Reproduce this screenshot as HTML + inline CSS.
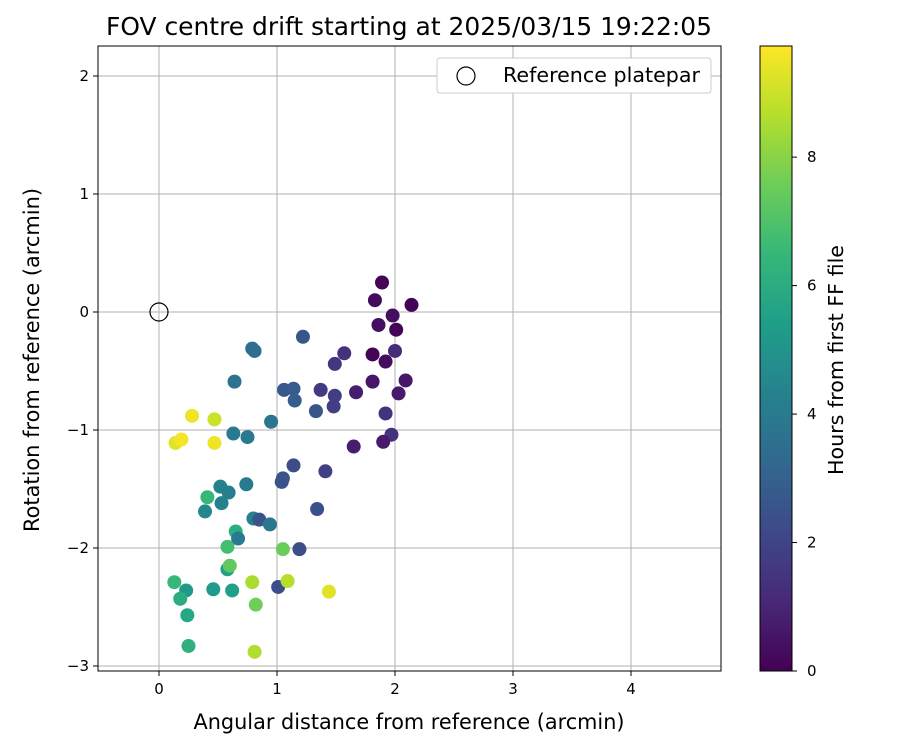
<!DOCTYPE html>
<html><head><meta charset="utf-8"><style>
body{margin:0;background:#fff;font-family:"Liberation Sans","DejaVu Sans",sans-serif;}
</style></head><body>
<svg id="chart" width="900" height="750" xmlns="http://www.w3.org/2000/svg" font-family="DejaVu Sans, Liberation Sans, sans-serif">
<defs>
<linearGradient id="vir" x1="0" y1="1" x2="0" y2="0"></linearGradient>
<clipPath id="clip"><rect x="98" y="46" width="623" height="625"/></clipPath>
</defs>
<text x="409" y="35" font-size="24.5" text-anchor="middle" textLength="606" lengthAdjust="spacingAndGlyphs">FOV centre drift starting at 2025/03/15 19:22:05</text>
<g id="grid"></g>
<g id="points" clip-path="url(#clip)"></g>
<rect x="98" y="46" width="623" height="625" fill="none" stroke="#000" stroke-width="1"/>
<g id="ticks"></g>
<text x="409" y="729" font-size="21" text-anchor="middle" textLength="431" lengthAdjust="spacingAndGlyphs">Angular distance from reference (arcmin)</text>
<text transform="translate(39,360) rotate(-90)" font-size="21" text-anchor="middle" textLength="344" lengthAdjust="spacingAndGlyphs">Rotation from reference (arcmin)</text>
<g>
<rect x="437" y="58" width="274" height="35" rx="3" fill="#fff" stroke="#ccc"/>
<circle cx="466" cy="76" r="9" fill="none" stroke="#000" stroke-width="1.2"/>
<text x="503" y="82" font-size="20.5" textLength="197" lengthAdjust="spacingAndGlyphs">Reference platepar</text>
</g>
<rect x="760" y="46" width="32" height="625" fill="url(#vir)" stroke="#000" stroke-width="1"/>
<g id="cbticks"></g>
<text transform="translate(843,360) rotate(-90)" font-size="20.5" text-anchor="middle" textLength="230" lengthAdjust="spacingAndGlyphs">Hours from first FF file</text>
</svg>
<script>
const xVals=[1.89,1.83,2.14,1.98,1.86,2.01,1.22,0.79,0.81,1.57,1.81,1.92,2.00,1.49,0.64,1.81,2.09,1.06,1.14,1.37,1.67,1.15,1.49,1.48,2.03,1.33,1.92,0.95,0.63,0.75,1.97,1.90,1.65,1.14,1.41,1.05,1.04,0.74,1.34,0.52,0.59,0.41,0.53,0.39,0.80,0.85,0.94,0.65,0.67,0.58,1.05,1.19,0.28,0.47,0.14,0.19,0.47,0.58,0.60,0.13,0.23,0.18,0.46,0.62,0.79,1.01,1.09,1.44,0.82,0.24,0.25,0.81];
const yVals=[0.25,0.10,0.06,-0.03,-0.11,-0.15,-0.21,-0.31,-0.33,-0.35,-0.36,-0.42,-0.33,-0.44,-0.59,-0.59,-0.58,-0.66,-0.65,-0.66,-0.68,-0.75,-0.71,-0.80,-0.69,-0.84,-0.86,-0.93,-1.03,-1.06,-1.04,-1.10,-1.14,-1.30,-1.35,-1.41,-1.44,-1.46,-1.67,-1.48,-1.53,-1.57,-1.62,-1.69,-1.75,-1.76,-1.80,-1.86,-1.92,-1.99,-2.01,-2.01,-0.88,-0.91,-1.11,-1.08,-1.11,-2.18,-2.15,-2.29,-2.36,-2.43,-2.35,-2.36,-2.29,-2.33,-2.28,-2.37,-2.48,-2.57,-2.83,-2.88];
const hours=[0.1,0.3,0.1,0.4,0.4,0.1,2.6,3.5,3.5,1.4,0.1,0.3,1.2,1.6,3.7,0.6,0.6,2.7,2.8,1.7,0.8,2.9,1.8,1.8,0.7,2.6,1.4,3.8,4.0,4.0,1.4,0.7,0.8,2.3,1.9,2.5,2.5,4.0,2.4,4.3,4.2,6.5,4.3,4.5,4.3,2.5,3.9,6.1,4.0,6.8,7.5,2.3,9.5,9.0,9.3,9.6,9.5,5.5,7.3,6.5,5.2,6.0,5.3,5.5,8.5,2.3,8.7,9.3,7.6,5.8,6.2,8.6];
const xTicks=[0,1,2,3,4];
const yTicks=[2,1,0,-1,-2,-3];
const yTickLabels=["2","1","0","\u22121","\u22122","\u22123"];
const cTicks=[0,2,4,6,8];
const hMax=9.73;
const NS="http://www.w3.org/2000/svg";
const sx=v=>159+v*118, sy=v=>312-v*118, sc=v=>671-v*(625/hMax);
const vir=[[68,1,84],[72,40,120],[62,73,137],[49,104,142],[38,130,142],[31,158,137],[53,183,121],[109,205,89],[180,222,44],[253,231,37]];
function cmap(t){t=Math.max(0,Math.min(1,t))*9;const i=Math.min(8,Math.floor(t)),f=t-i,a=vir[i],b=vir[i+1];return `rgb(${a.map((v,k)=>Math.round(v+(b[k]-v)*f)).join(',')})`;}
function mk(tag,at,parent){const e=document.createElementNS(NS,tag);for(const k in at)e.setAttribute(k,at[k]);parent.appendChild(e);return e;}
const grad=document.getElementById('vir');
for(let i=0;i<=9;i++)mk('stop',{offset:(i/9*100)+'%','stop-color':cmap(i/9)},grad);
const grid=document.getElementById('grid'),ticks=document.getElementById('ticks');
xTicks.forEach(v=>{
 const l=mk('line',{x1:sx(v),x2:sx(v),y1:46,y2:671,stroke:'#b0b0b0','stroke-width':1},grid);
 
 
 mk('line',{x1:sx(v),x2:sx(v),y1:671,y2:676,stroke:'#000'},ticks);
 const t=mk('text',{x:sx(v),y:694,'font-size':15,'text-anchor':'middle'},ticks);t.textContent=v;
 
 
});
yTicks.forEach((v,i)=>{
 const l=mk('line',{x1:98,x2:721,y1:sy(v),y2:sy(v),stroke:'#b0b0b0','stroke-width':1},grid);
 
 
 mk('line',{x1:93,x2:98,y1:sy(v),y2:sy(v),stroke:'#000'},ticks);
 const t=mk('text',{x:89,y:sy(v)+5,'font-size':15,'text-anchor':'end'},ticks);t.textContent=yTickLabels[i];
 
 
});
const pts=document.getElementById('points');
xVals.forEach((x,i)=>{
 const c=mk('circle',{cx:sx(x),cy:sy(yVals[i]),r:7,fill:cmap(hours[i]/hMax)},pts);
 
 
});
const ref=mk('circle',{cx:sx(0),cy:sy(0),r:9,fill:'none',stroke:'#000','stroke-width':1.2},pts);


const cb=document.getElementById('cbticks');
cTicks.forEach(v=>{
 mk('line',{x1:792,x2:797,y1:sc(v),y2:sc(v),stroke:'#000'},cb);
 const t=mk('text',{x:807,y:sc(v)+5,'font-size':15},cb);t.textContent=v;
 
 
});
</script>
</body></html>
